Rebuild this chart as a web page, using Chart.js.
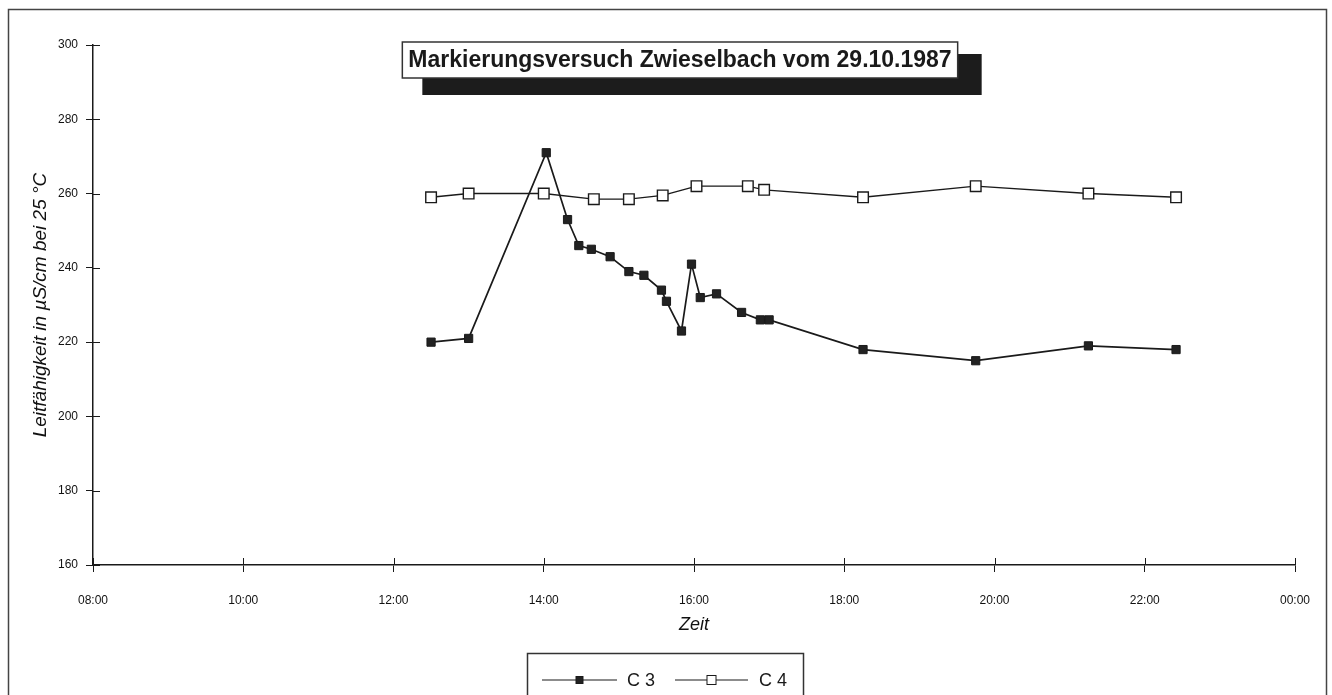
<!DOCTYPE html>
<html>
<head>
<meta charset="utf-8">
<script src="https://cdn.jsdelivr.net/npm/chart.js@4/dist/chart.umd.min.js"></script>
<style>
  html, body { margin: 0; padding: 0; background: #fff; }
  #chart { position: absolute; left: 0; top: 0; }
</style>
</head>
<body>
<canvas id="chart" width="1332" height="695"></canvas>
<script>
// Zeitpunkte und Messwerte (Leitfähigkeit in µS/cm bei 25 °C)
var c3_times = ["12:30", "13:00", "14:02", "14:19", "14:28", "14:38", "14:53", "15:08", "15:20", "15:34", "15:38", "15:50", "15:58", "16:05", "16:18", "16:38", "16:53", "17:00", "18:15", "19:45", "21:15", "22:25"];
var c3_values = [220, 221, 271, 253, 246, 245, 243, 239, 238, 234, 231, 223, 241, 232, 233, 228, 226, 226, 218, 215, 219, 218];

var c4_times = ["12:30", "13:00", "14:00", "14:40", "15:08", "15:35", "16:02", "16:43", "16:56", "18:15", "19:45", "21:15", "22:25"];
var c4_values = [259, 260, 260, 258.5, 258.5, 259.5, 262, 262, 261, 259, 262, 260, 259];

var x_ticks = ["08:00", "10:00", "12:00", "14:00", "16:00", "18:00", "20:00", "22:00", "00:00"];
var y_ticks = [160, 180, 200, 220, 240, 260, 280, 300];

var chart_title = "Markierungsversuch Zwieselbach vom 29.10.1987";
var series_names = ["C 3", "C 4"];

function hours(t) {
	var p = t.split(":");
	return parseInt(p[0], 10) + parseInt(p[1], 10) / 60;
}

function points(times, values) {
	return times.map(function (t, i) { return { x: hours(t), y: values[i] }; });
}

var ink = "#1a1a1a";
var font_family = "'Liberation Sans', Arial, sans-serif";

var decorations = {
	id: "decorations",
	afterDraw: function (chart) {
		var ctx = chart.ctx;
		var xs = chart.scales.x;
		var ys = chart.scales.y;
		ctx.save();

		// inner half of the crossing tick marks
		ctx.strokeStyle = ink;
		ctx.lineWidth = 1;
		ctx.beginPath();
		xs.ticks.forEach(function (t) {
			var px = Math.round(xs.getPixelForValue(t.value)) + 0.5;
			ctx.moveTo(px, ys.bottom);
			ctx.lineTo(px, ys.bottom - 7);
		});
		ys.ticks.forEach(function (t) {
			var py = Math.round(ys.getPixelForValue(t.value)) + 0.5;
			ctx.moveTo(xs.left, py);
			ctx.lineTo(xs.left + 7, py);
		});
		ctx.stroke();

		// outer frame
		ctx.strokeStyle = "#444";
		ctx.lineWidth = 1.5;
		ctx.strokeRect(8.5, 9.5, 1318, 700);

		// title box with drop shadow
		ctx.font = "bold 23px " + font_family;
		var tw = ctx.measureText(chart_title).width;
		var cx = 680;
		var bx = cx - tw / 2 - 6, bw = tw + 12, by = 42, bh = 36;
		ctx.fillStyle = "#1c1c1c";
		ctx.fillRect(bx + 20, by + 12, bw + 4, bh + 5);
		ctx.fillStyle = "#fff";
		ctx.fillRect(bx, by, bw, bh);
		ctx.strokeStyle = "#333";
		ctx.lineWidth = 1.5;
		ctx.strokeRect(bx, by, bw, bh);
		ctx.fillStyle = ink;
		ctx.textAlign = "center";
		ctx.textBaseline = "middle";
		ctx.fillText(chart_title, cx, by + bh / 2 + 1);

		// legend box
		ctx.strokeStyle = "#333";
		ctx.lineWidth = 1.5;
		ctx.strokeRect(527.5, 653.5, 276, 60);
		var ly = 680;
		var items = [
			{ x0: 542, x1: 617, tx: 627, ds: chart.data.datasets[0] },
			{ x0: 675, x1: 748, tx: 759, ds: chart.data.datasets[1] }
		];
		items.forEach(function (it) {
			ctx.strokeStyle = ink;
			ctx.lineWidth = 1.2;
			ctx.beginPath();
			ctx.moveTo(it.x0, ly);
			ctx.lineTo(it.x1, ly);
			ctx.stroke();
			var s = it.ds.pointRadius * Math.SQRT1_2 * 0.85;
			var mx = (it.x0 + it.x1) / 2;
			ctx.fillStyle = it.ds.pointBackgroundColor;
			ctx.fillRect(mx - s, ly - s, 2 * s, 2 * s);
			ctx.lineWidth = 1;
			ctx.strokeRect(mx - s, ly - s, 2 * s, 2 * s);
			ctx.fillStyle = ink;
			ctx.font = "18px " + font_family;
			ctx.textAlign = "left";
			ctx.textBaseline = "middle";
			ctx.fillText(it.ds.label, it.tx, ly + 1);
		});

		ctx.restore();
	}
};

var context = document.getElementById("chart").getContext("2d");

var chart = new Chart(context, {
	type: "line",
	data: {
		datasets: [{
			label: series_names[0],
			data: points(c3_times, c3_values),
			borderColor: ink,
			borderWidth: 1.7,
			pointStyle: "rect",
			pointRadius: 5.8,
			pointBackgroundColor: "#222",
			pointBorderColor: ink,
			pointBorderWidth: 1,
			tension: 0,
			fill: false
		},
		{
			label: series_names[1],
			data: points(c4_times, c4_values),
			borderColor: ink,
			borderWidth: 1.4,
			pointStyle: "rect",
			pointRadius: 7.5,
			pointBackgroundColor: "#fff",
			pointBorderColor: ink,
			pointBorderWidth: 1.4,
			tension: 0,
			fill: false
		}]
	},
	options: {
		responsive: false,
		animation: false,
		devicePixelRatio: 1,
		layout: { padding: { left: 8, top: 45, right: 37, bottom: 0 } },
		plugins: {
			legend: { display: false },
			tooltip: { enabled: false }
		},
		scales: {
			x: {
				type: "linear",
				min: 8,
				max: 24,
				afterFit: function (scale) { scale.height = 130; },
				afterBuildTicks: function (scale) {
					scale.ticks = x_ticks.map(function (t, i) { return { value: 8 + 2 * i }; });
				},
				border: { color: ink, width: 1.5 },
				grid: { drawOnChartArea: false, drawTicks: true, tickLength: 7, color: ink, lineWidth: 1 },
				ticks: {
					autoSkip: false,
					maxRotation: 0,
					padding: 21,
					color: "#111",
					font: { family: font_family, size: 12 },
					callback: function (value, index) { return x_ticks[index]; }
				},
				title: {
					display: true,
					text: "Zeit",
					color: "#111",
					font: { family: font_family, size: 18, style: "italic" },
					padding: { top: 0, bottom: 59 }
				}
			},
			y: {
				min: 160,
				max: 300,
				afterFit: function (scale) { scale.width = 85; },
				afterBuildTicks: function (scale) {
					scale.ticks = y_ticks.map(function (v) { return { value: v }; });
				},
				border: { color: ink, width: 1.5 },
				grid: { drawOnChartArea: false, drawTicks: true, tickLength: 7, color: ink, lineWidth: 1 },
				ticks: {
					padding: 8,
					color: "#111",
					font: { family: font_family, size: 12 }
				},
				title: {
					display: true,
					text: "Leitfähigkeit in µS/cm bei 25 °C",
					color: "#111",
					font: { family: font_family, size: 19, style: "italic" },
					padding: { top: 21, bottom: 0 }
				}
			}
		}
	},
	plugins: [decorations]
});

window.chart = chart;
</script>
</body>
</html>
